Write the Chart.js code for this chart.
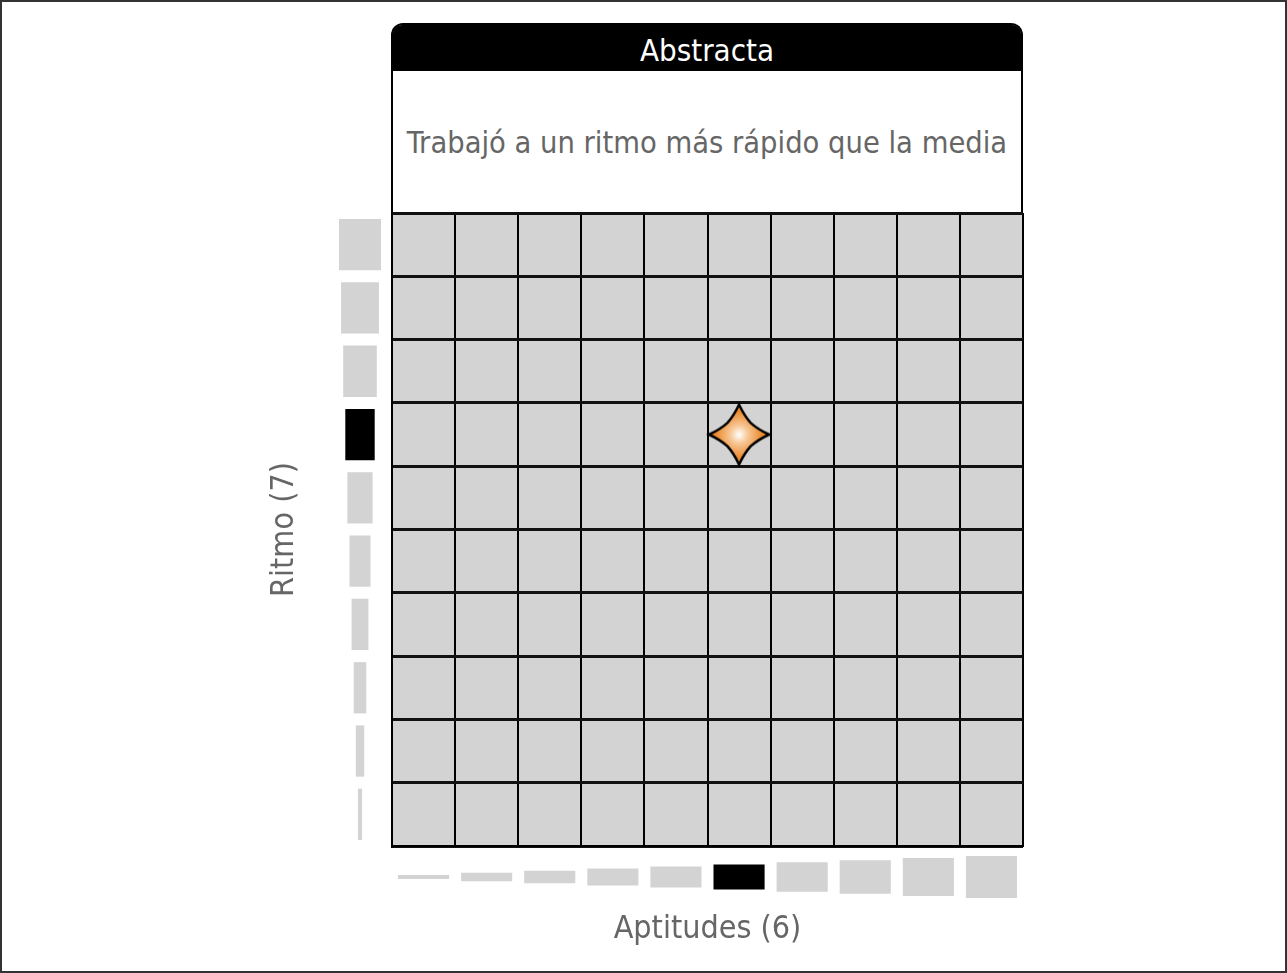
<!DOCTYPE html>
<html>
<head>
<meta charset="utf-8">
<script src="https://cdn.jsdelivr.net/npm/chart.js@4"></script>
<style>
  body { margin: 0; background: #fff; }
  #page { position: relative; width: 1287px; height: 973px; overflow: hidden;
          font-family: 'Liberation Sans Narrow', 'DejaVu Sans Condensed', sans-serif; }
  #frame { position: absolute; left: 0; top: 0; width: 1287px; height: 973px;
           box-sizing: border-box; border: 2px solid #333; pointer-events: none; }
  canvas { position: absolute; }
  #head { position: absolute; left: 391px; top: 23px; width: 632px; height: 192px;
          box-sizing: border-box; border: 2px solid #000; border-bottom: none;
          border-radius: 12px 12px 0 0; background: #fff; }
  #band { height: 46px; background: #000; color: #fff; text-align: center;
          font-size: 31px; line-height: 50px; overflow: hidden; border-radius: 9px 9px 0 0; }
  #sub { text-align: center; color: #666; font-size: 30.5px; margin-top: 54px; white-space: nowrap; }
</style>
</head>
<body>
<div id="page">
  <div id="head">
    <div id="band">Abstracta</div>
    <div id="sub">Trabajó a un ritmo más rápido que la media</div>
  </div>
  <canvas id="grid" width="651" height="653" style="left:382px;top:203px"></canvas>
  <canvas id="bottom" width="651" height="113" style="left:382px;top:846px"></canvas>
  <canvas id="left" width="141" height="653" style="left:250px;top:203px"></canvas>
  <div id="frame"></div>
</div>
<script>
// categories of both dimensions
const aptLabels = ['1', '2', '3', '4', '5', '6', '7', '8', '9', '10'];
const ritmoLabels = ['1', '2', '3', '4', '5', '6', '7', '8', '9', '10'];
// size of the marginal bars (bottom: left to right, left: bottom to top)
const aptBarSize = [1, 2, 3, 4, 5, 6, 7, 8, 9, 10];
const ritmoBarSize = [1, 2, 3, 4, 5, 6, 7, 8, 9, 10];
// the result
const aptScore = '6';
const ritmoScore = '7';

const FONT = "'Liberation Sans Narrow', 'DejaVu Sans Condensed', sans-serif";
const CELL = '#d3d3d3';
Chart.defaults.font.family = FONT;

// four pointed star with an orange glow, used as the point image
function makeStar(r) {
    const c = document.createElement('canvas');
    c.width = c.height = 2 * r + 6;
    const g = c.getContext('2d');
    const m = r + 3;
    const ri = r * 0.55;
    const pts = [];
    for (let i = 0; i < 8; i++) {
        const a = -Math.PI / 2 + i * Math.PI / 4;
        const rad = i % 2 ? ri : r;
        pts.push([rad * Math.cos(a), rad * Math.sin(a)]);
    }
    g.beginPath();
    g.moveTo(m + pts[0][0], m + pts[0][1]);
    for (let i = 1; i <= 8; i++) {
        const p = pts[i % 8], q = pts[i - 1];
        const cx = (p[0] + q[0]) / 2 * 0.9, cy = (p[1] + q[1]) / 2 * 0.9;
        g.quadraticCurveTo(m + cx, m + cy, m + p[0], m + p[1]);
    }
    g.closePath();
    const grad = g.createRadialGradient(m, m, 0, m, m, r * 0.75);
    grad.addColorStop(0, '#ffffff');
    grad.addColorStop(0.4, '#f8c896');
    grad.addColorStop(1, '#ec8c32');
    g.fillStyle = grad;
    g.fill();
    g.lineWidth = 2.5;
    g.lineJoin = 'miter';
    g.strokeStyle = '#000';
    g.stroke();
    return c;
}

const cellBackground = {
    id: 'cellBackground',
    beforeDraw(chart) {
        const {ctx, chartArea: a} = chart;
        ctx.save();
        ctx.fillStyle = CELL;
        ctx.fillRect(a.left, a.top, a.right - a.left, a.bottom - a.top);
        ctx.restore();
    }
};

const base = {
    responsive: false,
    animation: false,
    plugins: {legend: {display: false}, tooltip: {enabled: false}}
};

// main 10 x 10 grid with the star
new Chart(document.getElementById('grid'), {
    type: 'scatter',
    data: {
        datasets: [{
            data: [{x: aptScore, y: ritmoScore}],
            pointStyle: makeStar(30),
            pointRadius: 30
        }]
    },
    options: {
        ...base,
        layout: {padding: 10, autoPadding: false},
        scales: {
            x: {
                type: 'category', labels: aptLabels, offset: true,
                grid: {offset: true, color: '#000', lineWidth: 2, drawTicks: false},
                border: {color: '#000', width: 2},
                ticks: {display: false}
            },
            y: {
                type: 'category', labels: ritmoLabels.slice().reverse(), offset: true,
                grid: {offset: true, color: '#111', lineWidth: 3, drawTicks: false},
                border: {color: '#000', width: 2},
                ticks: {display: false}
            }
        }
    },
    plugins: [cellBackground]
});

// bottom marginal bars
new Chart(document.getElementById('bottom'), {
    type: 'bar',
    data: {
        labels: aptLabels,
        datasets: [{
            data: aptBarSize.map(v => [-v / 2, v / 2]),
            backgroundColor: aptLabels.map(l => l === aptScore ? '#000' : CELL),
            barPercentage: 0.81,
            categoryPercentage: 1
        }]
    },
    options: {
        ...base,
        layout: {padding: {left: 10, right: 10, top: 10, bottom: 9.8}, autoPadding: false},
        scales: {
            x: {
                grid: {display: false, drawTicks: false},
                border: {display: false},
                ticks: {display: false},
                title: {display: true, text: 'Aptitudes (' + aptScore + ')', color: '#666',
                        font: {size: 32}, padding: {top: 12.8, bottom: 0}}
            },
            y: {display: false, min: -5, max: 5}
        }
    }
});

// left marginal bars
const ritmoTopDown = ritmoLabels.slice().reverse();
new Chart(document.getElementById('left'), {
    type: 'bar',
    data: {
        labels: ritmoTopDown,
        datasets: [{
            data: ritmoBarSize.slice().reverse().map(v => [-v / 2, v / 2]),
            backgroundColor: ritmoTopDown.map(l => l === ritmoScore ? '#000' : CELL),
            barPercentage: 0.81,
            categoryPercentage: 1
        }]
    },
    options: {
        ...base,
        indexAxis: 'y',
        layout: {padding: {left: 15.8, right: 10, top: 10, bottom: 10}, autoPadding: false},
        scales: {
            y: {
                grid: {display: false, drawTicks: false},
                border: {display: false},
                ticks: {display: false},
                title: {display: true, text: 'Ritmo (' + ritmoScore + ')', color: '#666',
                        font: {size: 32}, padding: {top: 0, bottom: 34.8}}
            },
            x: {display: false, min: -5, max: 5}
        }
    }
});
</script>
</body>
</html>
